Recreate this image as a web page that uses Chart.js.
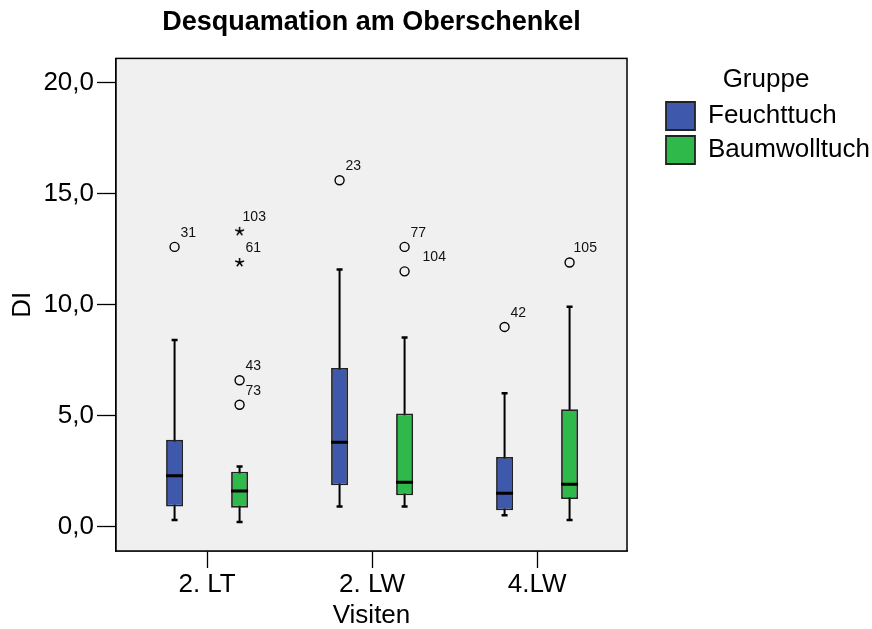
<!DOCTYPE html>
<html>
<head>
<meta charset="utf-8">
<script src="https://cdn.jsdelivr.net/npm/chart.js@4.4.1/dist/chart.umd.min.js"></script>
<style>
  html, body { margin: 0; padding: 0; background: #ffffff; }
  #wrap { width: 872px; height: 629px; }
</style>
</head>
<body>
<div id="wrap"><canvas id="c" width="872" height="629"></canvas></div>
<script>
// ---------------- data ----------------
const categories = ['2. LT', '2. LW', '4.LW'];
const groupNames = ['Feuchttuch', 'Baumwolltuch'];
const yTickValues = [0, 5, 10, 15, 20];

const feuchtWhiskerLow  = [0.32, 0.92, 0.53];
const feuchtQ1          = [0.92, 1.88, 0.75];
const feuchtMedian      = [2.31, 3.81, 1.52];
const feuchtQ3          = [3.92, 7.15, 3.15];
const feuchtWhiskerHigh = [8.41, 11.58, 6.02];

const baumWhiskerLow  = [0.23, 0.92, 0.32];
const baumQ1          = [0.87, 1.43, 1.26];
const baumMedian      = [1.62, 2.01, 1.92];
const baumQ3          = [2.49, 5.11, 5.30];
const baumWhiskerHigh = [2.72, 8.53, 9.91];

const feuchtOutlierVisit = [0, 1, 2];
const feuchtOutlierValue = [12.6, 15.6, 9.0];
const feuchtOutlierCase  = ['31', '23', '42'];

const baumOutlierVisit = [0, 0, 1, 1, 2];
const baumOutlierValue = [6.6, 5.5, 12.6, 11.5, 11.9];
const baumOutlierCase  = ['43', '73', '77', '104', '105'];

const baumExtremeVisit = [0, 0];
const baumExtremeValue = [13.3, 11.9];
const baumExtremeCase  = ['103', '61'];

// ---------------- styling / layout helpers ----------------
const FONT = "'Liberation Sans', Arial, sans-serif";
Chart.defaults.font.family = FONT;
Chart.defaults.color = '#000';
const BLUE = '#3e58ab';
const GREEN = '#2fb94b';
const OFFSET = 0.197;           // horizontal shift of each group's box from the category centre
const xF = i => i + 1 - OFFSET; // Feuchttuch position
const xB = i => i + 1 + OFFSET; // Baumwolltuch position
const labelNudge = { '103': 3, '104': 18, '105': 4 };

// five-armed asterisk marker for extreme values
const asterisk = (() => {
  const c = document.createElement('canvas');
  c.width = 11; c.height = 11;
  const g = c.getContext('2d');
  g.strokeStyle = '#000';
  g.lineWidth = 1.5;
  g.lineCap = 'butt';
  g.beginPath();
  for (let k = 0; k < 5; k++) {
    const a = -Math.PI / 2 + k * 2 * Math.PI / 5;
    g.moveTo(5.5, 5.5);
    g.lineTo(5.5 + 4.6 * Math.cos(a), 5.5 + 4.6 * Math.sin(a));
  }
  g.stroke();
  return c;
})();

const boxF = categories.map((c, i) => ({ x: xF(i), y: [feuchtQ1[i], feuchtQ3[i]] }));
const boxB = categories.map((c, i) => ({ x: xB(i), y: [baumQ1[i], baumQ3[i]] }));
const whiskF = categories.map((c, i) => ({ x: xF(i), y: [feuchtWhiskerLow[i], feuchtWhiskerHigh[i]] }));
const whiskB = categories.map((c, i) => ({ x: xB(i), y: [baumWhiskerLow[i], baumWhiskerHigh[i]] }));
const caps = [];
categories.forEach((c, i) => {
  caps.push({ x: xF(i), y: feuchtWhiskerLow[i] }, { x: xF(i), y: feuchtWhiskerHigh[i] });
  caps.push({ x: xB(i), y: baumWhiskerLow[i] }, { x: xB(i), y: baumWhiskerHigh[i] });
});
const medians = [];
categories.forEach((c, i) => {
  medians.push({ x: xF(i), y: feuchtMedian[i] }, { x: xB(i), y: baumMedian[i] });
});
const outF = feuchtOutlierVisit.map((v, k) => ({ x: xF(v), y: feuchtOutlierValue[k] }));
const outB = baumOutlierVisit.map((v, k) => ({ x: xB(v), y: baumOutlierValue[k] }));
const extB = baumExtremeVisit.map((v, k) => ({ x: xB(v), y: baumExtremeValue[k] }));

// ---------------- plugins ----------------
const plotFrame = {
  id: 'plotFrame',
  beforeDatasetsDraw(chart) {
    const { ctx, chartArea: a } = chart;
    ctx.save();
    ctx.fillStyle = '#f0f0f0';
    ctx.fillRect(a.left, a.top, a.right - a.left, a.bottom - a.top);
    ctx.restore();
  },
  afterDraw(chart) {
    const { ctx, chartArea: a } = chart;
    ctx.save();
    ctx.strokeStyle = '#000';
    ctx.lineWidth = 1.5;
    ctx.strokeRect(a.left, a.top, a.right - a.left, a.bottom - a.top);
    ctx.restore();
  }
};
const caseLabels = {
  id: 'caseLabels',
  afterDatasetsDraw(chart) {
    const { ctx } = chart;
    ctx.save();
    ctx.font = '14px ' + FONT;
    ctx.fillStyle = '#111';
    ctx.textAlign = 'left';
    ctx.textBaseline = 'middle';
    chart.data.datasets.forEach((ds, di) => {
      if (!ds.caseLabels) return;
      const meta = chart.getDatasetMeta(di);
      meta.data.forEach((el, k) => {
        const t = ds.caseLabels[k];
        const dx = labelNudge[t] !== undefined ? labelNudge[t] : 6;
        ctx.fillText(t, el.x + dx, el.y - 14);
      });
    });
    ctx.restore();
  }
};

// ---------------- chart ----------------
new Chart(document.getElementById('c'), {
  type: 'bar',
  data: {
    datasets: [
      { type: 'bar', label: groupNames[0], data: boxF, backgroundColor: BLUE, borderColor: '#222',
        borderWidth: 1.8, borderSkipped: false, grouped: false, maxBarThickness: 17, order: 2 },
      { type: 'bar', label: groupNames[1], data: boxB, backgroundColor: GREEN, borderColor: '#222',
        borderWidth: 1.8, borderSkipped: false, grouped: false, maxBarThickness: 17, order: 2 },
      { type: 'bar', label: 'whiskers F', data: whiskF, backgroundColor: '#000', borderWidth: 0,
        grouped: false, maxBarThickness: 2, order: 3 },
      { type: 'bar', label: 'whiskers B', data: whiskB, backgroundColor: '#000', borderWidth: 0,
        grouped: false, maxBarThickness: 2, order: 3 },
      { type: 'scatter', label: 'caps', data: caps, pointStyle: 'line', pointRadius: 3,
        borderColor: '#000', pointBorderWidth: 2.5, order: 1 },
      { type: 'scatter', label: 'medians', data: medians, pointStyle: 'line', pointRadius: 8.5,
        borderColor: '#000', pointBorderWidth: 3, order: 1 },
      { type: 'scatter', label: 'outliers F', data: outF, pointStyle: 'circle', pointRadius: 4.5,
        borderColor: '#000', backgroundColor: 'rgba(0,0,0,0)', pointBorderWidth: 1.4, order: 1,
        caseLabels: feuchtOutlierCase },
      { type: 'scatter', label: 'outliers B', data: outB, pointStyle: 'circle', pointRadius: 4.5,
        borderColor: '#000', backgroundColor: 'rgba(0,0,0,0)', pointBorderWidth: 1.4, order: 1,
        caseLabels: baumOutlierCase },
      { type: 'scatter', label: 'extremes B', data: extB, pointStyle: asterisk, pointRadius: 5,
        borderColor: '#000', pointBorderWidth: 1.4, order: 1, caseLabels: baumExtremeCase }
    ]
  },
  options: {
    responsive: false,
    animation: false,
    events: [],
    layout: { padding: 0 },
    plugins: {
      tooltip: { enabled: false },
      title: {
        display: true,
        text: 'Desquamation am Oberschenkel',
        fullSize: false,
        color: '#000',
        font: { size: 27, weight: 'bold', lineHeight: 1.2 },
        padding: { top: 6, bottom: 20 }
      },
      legend: {
        display: true,
        position: 'right',
        align: 'start',
        maxWidth: 212,
        title: {
          display: true,
          text: 'Gruppe',
          color: '#000',
          font: { size: 26, lineHeight: 1 },
          padding: { top: 67, bottom: 3 }
        },
        labels: {
          color: '#000',
          font: { size: 26 },
          boxWidth: 29,
          boxHeight: 28,
          padding: 6,
          filter: item => item.datasetIndex === 0 || item.datasetIndex === 1
        }
      }
    },
    scales: {
      x: {
        type: 'linear',
        position: 'bottom',
        min: 0.448,
        max: 3.545,
        offset: false,
        afterBuildTicks: s => { s.ticks = categories.map((c, i) => ({ value: i + 1 })); },
        afterFit: s => { s.height = 78; },
        ticks: {
          color: '#000',
          font: { size: 26, lineHeight: 1.2 },
          padding: 1,
          autoSkip: false,
          maxRotation: 0,
          callback: v => categories[Math.round(v) - 1]
        },
        grid: { display: true, drawOnChartArea: false, offset: false, drawTicks: true,
                tickLength: 17, tickColor: '#000', tickWidth: 1.3 },
        border: { display: true, color: '#000', width: 1.5 },
        title: { display: true, text: 'Visiten', color: '#000',
                 font: { size: 26, lineHeight: 1 }, padding: { top: 0, bottom: 0 } }
      },
      y: {
        type: 'linear',
        position: 'left',
        min: -1.08,
        max: 21.08,
        afterBuildTicks: s => { s.ticks = yTickValues.map(v => ({ value: v })); },
        afterFit: s => { s.width = 116; },
        ticks: {
          color: '#000',
          font: { size: 26 },
          padding: 3,
          callback: v => v.toFixed(1).replace('.', ',')
        },
        grid: { display: true, drawOnChartArea: false, drawTicks: true,
                tickLength: 19, tickColor: '#000', tickWidth: 1.3 },
        border: { display: true, color: '#000', width: 1.5 },
        title: { display: true, text: 'DI', color: '#000',
                 font: { size: 26, lineHeight: 1 }, padding: { top: 10, bottom: 0 } }
      },
      gap: {
        type: 'linear',
        position: 'right',
        display: true,
        afterFit: s => { s.width = 33; },
        ticks: { display: false },
        grid: { display: false },
        border: { display: false }
      }
    }
  },
  plugins: [plotFrame, caseLabels]
});
</script>
</body>
</html>
